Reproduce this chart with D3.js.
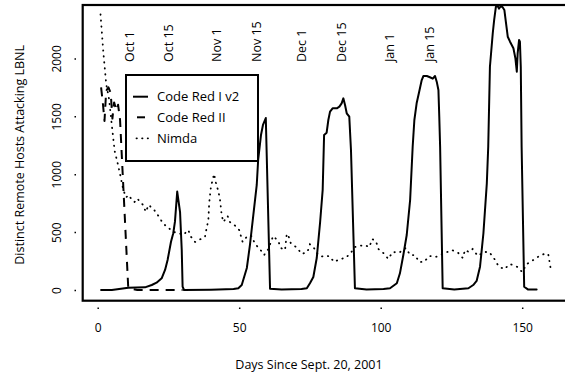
<!DOCTYPE html>
<html>
<head>
<meta charset="utf-8">
<script src="https://cdn.jsdelivr.net/npm/d3@7"></script>
<style>
  html, body { margin: 0; padding: 0; background: #fff; }
  svg { display: block; }
  text { font-family: "Open Sans", sans-serif; fill: #000; }
</style>
</head>
<body>
<svg id="chart" width="565" height="375"></svg>
<script>
// ---- data (day since Sept. 20, 2001, distinct hosts) ----
const codeRedIv2 = [
  [1.2,0],[5,0],[10.8,20],[16.7,23],[19.1,43],[20.8,63],[22.6,101],[23.8,173],[24.7,259],[25.9,417],
  [26.7,490],[27.3,590],[28.1,850],[29.1,673],[29.7,345],[30,30],[30.5,0],[40,2],[48,8],[49.7,15],
  [50.9,43],[52.7,190],[53.8,389],[55,648],[56.2,907],[56.7,1123],[57.7,1338],[58.4,1425],[59.4,1485],
  [60.9,10],[65,5],[72,8],[73.9,15],[75,58],[76.2,112],[77.4,276],[78.6,587],[79.5,864],[80,1339],
  [80.9,1358],[81.5,1468],[82.1,1540],[83,1569],[84.5,1569],[85.4,1583],[86.2,1612],[86.8,1655],
  [87.4,1598],[88,1526],[88.9,1497],[89.5,1209],[90.9,15],[95,5],[101,8],[103.3,15],[105.7,58],
  [106.8,144],[108,302],[109.2,475],[110.4,777],[111.3,1237],[111.9,1468],[112.7,1612],[113.6,1712],
  [114.5,1813],[115.1,1848],[116.3,1848],[117.4,1837],[118.4,1825],[119.2,1848],[119.8,1799],
  [120.4,1727],[120.7,1497],[121,1237],[121.9,15],[126,5],[131,15],[132.7,43],[133.9,78],[135.1,201],
  [136.3,490],[137.5,921],[138,1237],[138.6,1928],[139.6,2217],[140.1,2332],[140.7,2445],[141.3,2455],
  [141.8,2430],[142.4,2450],[143.1,2442],[143.7,2418],[144.3,2303],[144.9,2187],[145.7,2144],
  [146.9,2087],[147.6,2001],[148.1,1885],[148.4,2044],[148.9,2159],[149.2,2144],[149.5,1928],
  [149.8,1237],[150.7,28],[152,5],[155.1,4]
];
const codeRedII = [
  [1.2,1750],[1.8,1620],[2.4,1460],[3.0,1720],[3.8,1750],[4.6,1700],[5.2,1480],[5.8,1620],
  [6.6,1550],[7.2,1600],[7.9,1470],[10.8,15],[14,0],[30,0]
];
const nimda = [
  [1,2380],[2,2050],[3,1780],[4,1650],[5,1420],[6,1200],[7,1100],[8,990],[9,870],[10,800],[11,820],
  [12,780],[13,760],[14,790],[15,760],[16,735],[17,675],[18,735],[20,690],[22,620],[23,577],[25,535],
  [27,500],[28.5,492],[30.2,475],[32,518],[33,458],[34.4,415],[36.4,440],[37.9,458],[38.5,535],
  [39.1,604],[39.4,751],[40,889],[41.1,1002],[41.8,924],[42.6,855],[43.2,786],[43.8,648],[44.4,587],
  [45.9,639],[46.7,587],[48.3,561],[50,518],[51.2,415],[52.9,466],[54.4,466],[55.6,397],[57.3,354],
  [58.8,302],[60.3,354],[62,466],[63.8,423],[64.7,363],[66.2,345],[66.8,484],[67.3,475],[68.2,406],
  [70.5,363],[72.1,311],[74.1,328],[75,395],[76.4,363],[77.9,302],[80,285],[81.7,294],[83.6,242],
  [85.6,268],[87.6,276],[89.4,320],[90.9,371],[94.1,389],[96,371],[97,440],[98.3,423],[99.2,354],
  [100.9,320],[102.7,268],[104.2,328],[106.5,322],[108.9,363],[110.4,302],[112.1,302],[113.6,242],
  [115.3,242],[117.2,294],[119.4,285],[122.7,320],[125.2,345],[127.4,320],[129,276],[129.8,345],
  [131.2,328],[132.5,354],[134.3,294],[136.6,328],[138.3,328],[140,276],[141.6,207],[143.6,179],
  [145.7,224],[148.3,199],[150,155],[151.6,224],[153.4,250],[155.5,285],[157.7,311],[159.2,311],
  [160.1,179]
];
const xTicks = [0, 50, 100, 150];
const yTicks = [0, 500, 1000, 1500, 2000];
const dateLabels = ["Oct 1","Oct 15","Nov 1","Nov 15","Dec 1","Dec 15","Jan 1","Jan 15"];
const dateDays = [11, 25, 42, 56, 72, 86, 103, 117];
const seriesNames = ["Code Red I v2", "Code Red II", "Nimda"];

// ---- layout ----
const svg = d3.select("#chart");
const xDom = [-5.3, 166.4], yDom = [-92.4, 2461];
const plot = { left: 82.7, right: 568.6, top: 5, bottom: 300.7 };
const x = d3.scaleLinear().domain(xDom).range([plot.left, plot.right]);
const y = d3.scaleLinear().domain(yDom).range([plot.bottom, plot.top]);

svg.append("defs").append("clipPath").attr("id", "clip")
  .append("rect").attr("x", plot.left).attr("y", plot.top)
  .attr("width", plot.right - plot.left).attr("height", plot.bottom - plot.top);

const line = d3.line().x(d => x(d[0])).y(d => y(d[1]));
const g = svg.append("g").attr("clip-path", "url(#clip)");

g.append("path").datum(nimda).attr("d", line)
  .attr("fill", "none").attr("stroke", "#000").attr("stroke-width", 1.8)
  .attr("stroke-linecap", "round").attr("stroke-dasharray", "0.4 5.6");
g.append("path").datum(codeRedII).attr("d", line)
  .attr("fill", "none").attr("stroke", "#000").attr("stroke-width", 2)
  .attr("stroke-linecap", "butt").attr("stroke-linejoin", "round").attr("stroke-dasharray", "9 7");
g.append("path").datum(codeRedIv2).attr("d", line)
  .attr("fill", "none").attr("stroke", "#000").attr("stroke-width", 2)
  .attr("stroke-linejoin", "round").attr("stroke-linecap", "round");

// frame
svg.append("rect").attr("x", plot.left).attr("y", plot.top)
  .attr("width", plot.right - plot.left).attr("height", plot.bottom - plot.top)
  .attr("fill", "none").attr("stroke", "#000").attr("stroke-width", 2.2);

// x axis
const xAxis = svg.append("g").attr("transform", "translate(0,307.5)")
  .call(d3.axisBottom(x).tickValues(xTicks).tickSize(1.5).tickFormat(d3.format("d")));
xAxis.select(".domain").remove();
xAxis.selectAll(".tick line").attr("stroke-width", 1.5);
xAxis.selectAll(".tick text").attr("y", 24.5).attr("dy", 0)
  .style("font-family", '"Open Sans", sans-serif').style("font-size", "12px");

// y axis
const yAxis = svg.append("g").attr("transform", "translate(76,0)")
  .call(d3.axisLeft(y).tickValues(yTicks).tickSize(1.5).tickFormat(d3.format("d")));
yAxis.select(".domain").remove();
yAxis.selectAll(".tick line").attr("stroke-width", 1.5);
yAxis.selectAll(".tick text").attr("x", 0).attr("dy", 0)
  .attr("text-anchor", "middle").attr("transform", "translate(-15,0) rotate(-90)")
  .style("font-family", '"Open Sans", sans-serif').style("font-size", "12px");

// axis titles
svg.append("text").attr("x", 309).attr("y", 369).attr("text-anchor", "middle")
  .style("font-size", "12.5px").text("Days Since Sept. 20, 2001");
svg.append("text").attr("transform", `translate(24,${(plot.top + plot.bottom) / 2 + 2}) rotate(-90)`)
  .attr("text-anchor", "middle").style("font-size", "12.5px")
  .text("Distinct Remote Hosts Attacking LBNL");

// date annotations
svg.selectAll(".date").data(dateLabels).join("text").attr("class", "date")
  .attr("transform", (d, i) => `translate(${x(dateDays[i]) + 4.7},62) rotate(-90)`)
  .attr("text-anchor", "start").style("font-size", "12.5px").text(d => d);

// legend
const lg = svg.append("g");
lg.append("rect").attr("x", 126).attr("y", 75).attr("width", 132).attr("height", 86)
  .attr("fill", "#fff").attr("stroke", "#000").attr("stroke-width", 2);
const lgY = [96.7, 117.3, 138.3];
const lgStyles = [
  { w: 2, dash: null, off: 0, cap: "butt" },
  { w: 2, dash: "8 8", off: 12, cap: "butt" },
  { w: 1.8, dash: "0.4 5.2", off: -3.5, cap: "round" }
];
seriesNames.forEach((name, i) => {
  const s = lgStyles[i];
  const ln = lg.append("line").attr("x1", 133).attr("x2", 148).attr("y1", lgY[i]).attr("y2", lgY[i])
    .attr("stroke", "#000").attr("stroke-width", s.w).attr("stroke-linecap", s.cap);
  if (s.dash) ln.attr("stroke-dasharray", s.dash).attr("stroke-dashoffset", s.off);
  lg.append("text").attr("x", 157).attr("y", lgY[i] + 4.5).style("font-size", "13px").text(name);
});
</script>
</body>
</html>
